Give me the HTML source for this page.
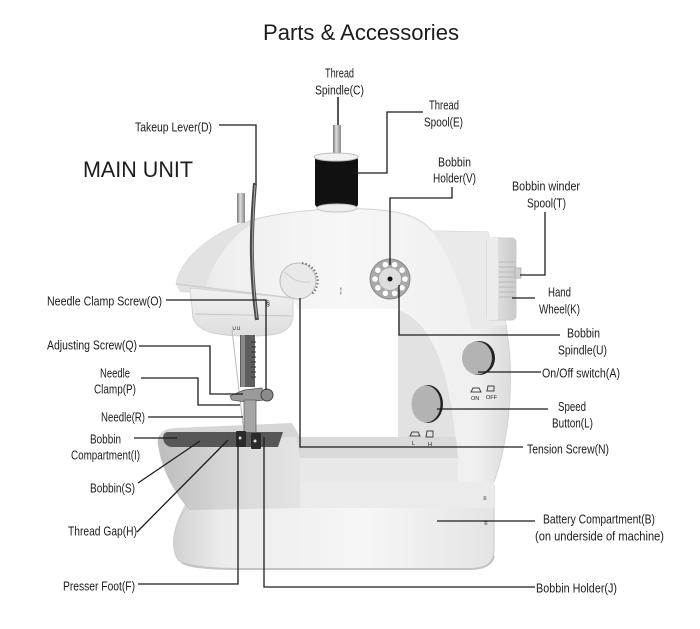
<!DOCTYPE html>
<html><head><meta charset="utf-8"><style>
html,body{margin:0;padding:0;background:#fff;}
svg{display:block;}
text{font-family:"Liberation Sans",Arial,sans-serif;fill:#1c1c1c;}
.l{font-size:13px;}
</style></head><body>
<svg width="700" height="629" viewBox="0 0 700 629" xmlns="http://www.w3.org/2000/svg">
<defs>
<linearGradient id="gBase" x1="0" y1="0" x2="1" y2="0">
<stop offset="0" stop-color="#d2d2d2"/><stop offset="0.15" stop-color="#ececec"/><stop offset="0.6" stop-color="#f6f6f6"/><stop offset="1" stop-color="#e4e4e4"/>
</linearGradient>
<linearGradient id="gBowl" x1="0" y1="0" x2="1" y2="0">
<stop offset="0" stop-color="#bdbdbd"/><stop offset="0.5" stop-color="#d8d8d8"/><stop offset="1" stop-color="#e4e4e4"/>
</linearGradient>
<linearGradient id="gBody" x1="0" y1="0" x2="1" y2="0">
<stop offset="0" stop-color="#d6d6d6"/><stop offset="0.12" stop-color="#eeeeee"/><stop offset="0.5" stop-color="#f7f7f7"/><stop offset="0.9" stop-color="#efefef"/><stop offset="1" stop-color="#dcdcdc"/>
</linearGradient>
<linearGradient id="gHead" x1="0" y1="0" x2="0" y2="1">
<stop offset="0" stop-color="#f2f2f2"/><stop offset="1" stop-color="#dedede"/>
</linearGradient>
<linearGradient id="gMetal" x1="0" y1="0" x2="1" y2="0">
<stop offset="0" stop-color="#777"/><stop offset="0.4" stop-color="#ddd"/><stop offset="1" stop-color="#888"/>
</linearGradient>
<linearGradient id="gWheel" x1="0" y1="0" x2="1" y2="0">
<stop offset="0" stop-color="#e8e8e8"/><stop offset="1" stop-color="#cacaca"/>
</linearGradient>
</defs>

<rect width="700" height="629" fill="#fff"/>

<!-- Titles -->
<text x="263" y="40" font-size="22" textLength="196" lengthAdjust="spacingAndGlyphs">Parts &amp; Accessories</text>
<text x="83" y="177" font-size="22" textLength="110" lengthAdjust="spacingAndGlyphs">MAIN UNIT</text>

<!-- ===== Machine ===== -->
<!-- lower base flange -->
<path d="M188,500 C176,518 170,540 176,556 C180,566 195,569 230,569 L470,569 C488,569 494,562 494,548 L494,480 L188,480 Z" fill="url(#gBase)"/>
<path d="M188,506 C176,520 170,540 176,556 C180,566 195,569 230,569 L470,569 C488,569 494,562 494,548 L494,485" fill="none" stroke="#cdcdcd" stroke-width="1.2"/>
<path d="M182,563 C200,569 230,569 240,569 L470,569 C485,569 492,564 494,556" fill="none" stroke="#c4c4c4" stroke-width="2"/>
<!-- bowl / bed (left part) -->
<path d="M158,441 C158,433 165,430 175,429 L292,424 L300,437 L300,508 L190,510 C176,494 161,470 158,441 Z" fill="url(#gBowl)"/>
<path d="M158,441 C161,470 176,494 190,510" fill="none" stroke="#c4c4c4" stroke-width="1"/>
<!-- bed top surface -->
<path d="M160,437 C160,431 166,429 175,428 L292,423 L300,437 Z" fill="#d6d6d6"/>
<!-- base under opening -->
<path d="M300,437 L494,437 L494,508 L300,508 Z" fill="#ebebeb"/>

<!-- main body: arm + column -->
<path d="M176,284 C182,256 215,229 260,218 C300,209 360,205 400,213 C418,217 427,225 432,231 L488,232 L506,325 C514,370 512,430 494,482 L300,482 L300,312 L293,300 L180,292 Z" fill="url(#gBody)"/>
<path d="M176,284 C182,256 215,229 260,218 C300,209 360,205 400,213 C418,217 427,225 432,231 L488,232 L506,325 C514,370 512,430 494,482" fill="none" stroke="#d2d2d2" stroke-width="1"/>
<!-- right block shading -->
<path d="M432,231 L488,232 L506,325 L472,330 C464,292 450,256 432,231 Z" fill="#eaeaea"/>
<!-- head left shading -->
<path d="M176,284 C182,256 215,229 260,218 C232,235 214,258 205,289 L180,292 Z" fill="#e2e2e2"/>
<!-- opening -->
<path d="M300,309 L398,309 L398,437 L300,437 Z" fill="#fff"/>
<!-- inner column face -->
<path d="M398,310 C428,320 454,362 458,480 L398,480 Z" fill="#e2e2e2"/>
<!-- opening shelf -->
<path d="M296,437 L456,437 L458,458 L300,458 Z" fill="#dadada"/>
<path d="M300,458 L458,458 L458,482 L300,482 Z" fill="#e8e8e8"/>

<!-- head lower cylinder -->
<path d="M190,288 L293,298 L293,318 C290,332 280,336 250,336 C215,336 198,332 193,318 Z" fill="url(#gHead)" stroke="#d2d2d2" stroke-width="1"/>
<path d="M195,314 L292,316" stroke="#c8c8c8" stroke-width="1"/>
<path d="M176,284 L293,298" stroke="#cfcfcf" stroke-width="1.5"/>
<text x="232" y="330" font-size="6" fill="#777">&#8746;&#8746;</text>

<!-- hand wheel -->
<rect x="487" y="238" width="29" height="82" rx="4" fill="url(#gWheel)" stroke="#cdcdcd"/>
<rect x="487" y="238" width="11" height="82" fill="#ececec"/>
<g stroke="#b8b8b8" stroke-width="1">
<line x1="499" y1="262" x2="515" y2="262"/><line x1="499" y1="267" x2="515" y2="267"/>
<line x1="499" y1="272" x2="515" y2="272"/><line x1="499" y1="277" x2="515" y2="277"/>
<line x1="499" y1="282" x2="515" y2="282"/><line x1="499" y1="287" x2="515" y2="287"/>
<line x1="499" y1="292" x2="515" y2="292"/><line x1="499" y1="297" x2="515" y2="297"/>
</g>
<rect x="515" y="268" width="6" height="10" fill="#cfcfcf" stroke="#aaa" stroke-width="0.8"/>

<!-- spool & spindle -->
<rect x="337" y="97" width="2" height="30" fill="#555"/>
<rect x="333" y="125" width="8" height="30" fill="url(#gMetal)"/>
<rect x="315" y="157" width="43" height="50" rx="3" fill="#111"/>
<ellipse cx="336" cy="157" rx="22" ry="4" fill="#f2f2f2" stroke="#bbb"/>
<ellipse cx="337" cy="208" rx="20" ry="4" fill="#eee" stroke="#c4c4c4"/>

<!-- post & takeup lever -->
<rect x="237" y="193" width="8" height="30" rx="1" fill="url(#gMetal)"/>
<path d="M255,183 C251,230 250,270 257,320" stroke="#4a4a4a" stroke-width="4" fill="none"/>
<path d="M255,185 C252,230 251,270 257,318" stroke="#aaa" stroke-width="1" fill="none"/>

<!-- tension dial -->
<circle cx="298" cy="281" r="18" fill="#e9e9e9" stroke="#bdbdbd"/>
<path d="M302,263 A18,18 0 0 1 312,294" fill="none" stroke="#777" stroke-width="2" stroke-dasharray="1.5 2"/>
<path d="M285,272 C292,280 300,283 311,282" fill="none" stroke="#ccc"/>
<text x="266" y="306" font-size="7" fill="#888">&#167;</text>
<text x="340" y="293" font-size="7" fill="#888">&#166;</text>

<!-- bobbin holder V -->
<circle cx="390" cy="279" r="20" fill="#a9a9a9" stroke="#8a8a8a"/>
<circle cx="390" cy="279" r="11" fill="#dedede"/>
<g fill="#fff">
<circle cx="405" cy="279" r="2.8"/><circle cx="402.1" cy="287.8" r="2.8"/><circle cx="394.6" cy="293.3" r="2.8"/>
<circle cx="385.4" cy="293.3" r="2.8"/><circle cx="377.9" cy="287.8" r="2.8"/><circle cx="375" cy="279" r="2.8"/>
<circle cx="377.9" cy="270.2" r="2.8"/><circle cx="385.4" cy="264.7" r="2.8"/><circle cx="394.6" cy="264.7" r="2.8"/>
<circle cx="402.1" cy="270.2" r="2.8"/>
</g>
<circle cx="390" cy="279" r="2.5" fill="#111"/>

<!-- buttons -->
<ellipse cx="479" cy="358" rx="16" ry="17" fill="#222"/>
<ellipse cx="477" cy="358" rx="15" ry="16.5" fill="#b3b3b3"/>
<ellipse cx="428" cy="404" rx="15" ry="19" fill="#222"/>
<ellipse cx="426" cy="404" rx="14.5" ry="18.5" fill="#b3b3b3"/>
<g fill="none" stroke="#444" stroke-width="1">
<path d="M471,392 L473,388 L479,388 L481,392 Z"/><path d="M487,391 L488,386 L494,386 L494,391 Z"/>
<path d="M410,436 L412,432 L418,432 L420,436 Z"/><path d="M426,437 L427,431 L433,431 L433,437 Z"/>
</g>
<text x="471" y="400" font-size="5.5" fill="#444">ON</text>
<text x="486" y="399" font-size="5.5" fill="#444">OFF</text>
<text x="412" y="445" font-size="5.5" fill="#444">L</text>
<text x="428" y="446" font-size="5.5" fill="#444">H</text>
<text x="483" y="500" font-size="6" fill="#999">&#8801;</text>
<text x="484" y="525" font-size="6" fill="#999">&#8801;</text>

<!-- needle mechanism -->
<line x1="232" y1="330" x2="243" y2="425" stroke="#bbb" stroke-width="1"/>
<rect x="240" y="335" width="15" height="52" fill="#5e5e5e"/>
<rect x="241" y="335" width="4" height="52" fill="#8a8a8a"/>
<g stroke="#333" stroke-width="1">
<line x1="251" y1="342" x2="256" y2="342"/><line x1="251" y1="347" x2="256" y2="347"/><line x1="251" y1="352" x2="256" y2="352"/>
<line x1="251" y1="357" x2="256" y2="357"/><line x1="251" y1="362" x2="256" y2="362"/><line x1="251" y1="367" x2="256" y2="367"/>
<line x1="251" y1="372" x2="256" y2="372"/><line x1="251" y1="377" x2="256" y2="377"/>
</g>
<path d="M230,396 L244,390 L262,388 L264,400 L246,402 L232,400 Z" fill="#9a9a9a" stroke="#555" stroke-width="0.8"/>
<circle cx="267" cy="395" r="6" fill="#8c8c8c" stroke="#444"/>
<rect x="244" y="400" width="12" height="34" fill="#a5a5a5" stroke="#666" stroke-width="0.8"/>

<!-- dark bed plate -->
<path d="M168,432 L283,432 L278,447 L172,447 C162,447 160,432 168,432 Z" fill="#575757"/>
<rect x="236" y="431" width="10" height="16" rx="1" fill="#2a2a2a"/>
<rect x="251" y="433" width="10" height="16" rx="1" fill="#2a2a2a"/>
<circle cx="240" cy="438" r="1.5" fill="#ddd"/><circle cx="255" cy="441" r="1.5" fill="#ddd"/>

<!-- ===== Connector lines ===== -->
<g stroke="#1c1c1c" stroke-width="1.3" fill="none">
<polyline points="219,125 256,125 256,183"/>
<polyline points="166,300 266,300 266,390"/>
<polyline points="139,346 210,346 210,394 243,394"/>
<polyline points="141,378 198,378 198,405 240,405"/>
<line x1="148" y1="417" x2="243" y2="417"/>
<line x1="134" y1="438" x2="177" y2="438"/>
<line x1="138" y1="483" x2="200" y2="441"/>
<line x1="137" y1="532" x2="228" y2="440"/>
<polyline points="138,584 238,584 238,437"/>
<polyline points="264,437 264,587 535,587"/>
<polyline points="300,298 300,447 523,447"/>
<polyline points="399,285 399,335 560,335"/>
<line x1="478" y1="372" x2="541" y2="372"/>
<line x1="437" y1="409" x2="548" y2="409"/>
<line x1="437" y1="521" x2="535" y2="521"/>
<line x1="512" y1="298" x2="535" y2="298"/>
<polyline points="520,275 545,275 545,212"/>
<polyline points="452,187 452,198 390,198 390,265"/>
<polyline points="423,112 387,112 387,173 353,173"/>
</g>

<!-- ===== Labels ===== -->
<g class="l">
<text class="l" x="325" y="77.5" textLength="29" lengthAdjust="spacingAndGlyphs">Thread</text>
<text class="l" x="315" y="94.5" textLength="49" lengthAdjust="spacingAndGlyphs">Spindle(C)</text>
<text class="l" x="429" y="109.5" textLength="30" lengthAdjust="spacingAndGlyphs">Thread</text>
<text class="l" x="424" y="126.5" textLength="39" lengthAdjust="spacingAndGlyphs">Spool(E)</text>
<text class="l" x="438" y="166.5" textLength="33" lengthAdjust="spacingAndGlyphs">Bobbin</text>
<text class="l" x="433" y="182.5" textLength="43" lengthAdjust="spacingAndGlyphs">Holder(V)</text>
<text class="l" x="512" y="190.5" textLength="68" lengthAdjust="spacingAndGlyphs">Bobbin winder</text>
<text class="l" x="527" y="207.5" textLength="39" lengthAdjust="spacingAndGlyphs">Spool(T)</text>
<text class="l" x="548" y="296.5" textLength="23" lengthAdjust="spacingAndGlyphs">Hand</text>
<text class="l" x="539" y="313.5" textLength="41" lengthAdjust="spacingAndGlyphs">Wheel(K)</text>
<text class="l" x="567" y="337.5" textLength="33" lengthAdjust="spacingAndGlyphs">Bobbin</text>
<text class="l" x="558" y="354.5" textLength="49" lengthAdjust="spacingAndGlyphs">Spindle(U)</text>
<text class="l" x="542" y="377.5" textLength="78" lengthAdjust="spacingAndGlyphs">On/Off switch(A)</text>
<text class="l" x="558" y="411" textLength="28" lengthAdjust="spacingAndGlyphs">Speed</text>
<text class="l" x="552" y="427.5" textLength="41" lengthAdjust="spacingAndGlyphs">Button(L)</text>
<text class="l" x="527" y="453.5" textLength="82" lengthAdjust="spacingAndGlyphs">Tension Screw(N)</text>
<text class="l" x="543" y="523.5" textLength="112" lengthAdjust="spacingAndGlyphs">Battery Compartment(B)</text>
<text class="l" x="535" y="540.5" textLength="129" lengthAdjust="spacingAndGlyphs">(on underside of machine)</text>
<text class="l" x="536" y="592.5" textLength="81" lengthAdjust="spacingAndGlyphs">Bobbin Holder(J)</text>

<text class="l" x="135" y="131.5" textLength="77" lengthAdjust="spacingAndGlyphs">Takeup Lever(D)</text>
<text class="l" x="47" y="305.5" textLength="115" lengthAdjust="spacingAndGlyphs">Needle Clamp Screw(O)</text>
<text class="l" x="47" y="349.5" textLength="90" lengthAdjust="spacingAndGlyphs">Adjusting Screw(Q)</text>
<text class="l" x="100" y="377.5" textLength="30" lengthAdjust="spacingAndGlyphs">Needle</text>
<text class="l" x="94" y="393.5" textLength="42" lengthAdjust="spacingAndGlyphs">Clamp(P)</text>
<text class="l" x="101" y="421.5" textLength="44" lengthAdjust="spacingAndGlyphs">Needle(R)</text>
<text class="l" x="90" y="443.5" textLength="31" lengthAdjust="spacingAndGlyphs">Bobbin</text>
<text class="l" x="71" y="459.5" textLength="69" lengthAdjust="spacingAndGlyphs">Compartment(I)</text>
<text class="l" x="90" y="492.5" textLength="45" lengthAdjust="spacingAndGlyphs">Bobbin(S)</text>
<text class="l" x="68" y="535.5" textLength="69" lengthAdjust="spacingAndGlyphs">Thread Gap(H)</text>
<text class="l" x="63" y="590.5" textLength="72" lengthAdjust="spacingAndGlyphs">Presser Foot(F)</text>
</g>
</svg>
</body></html>
